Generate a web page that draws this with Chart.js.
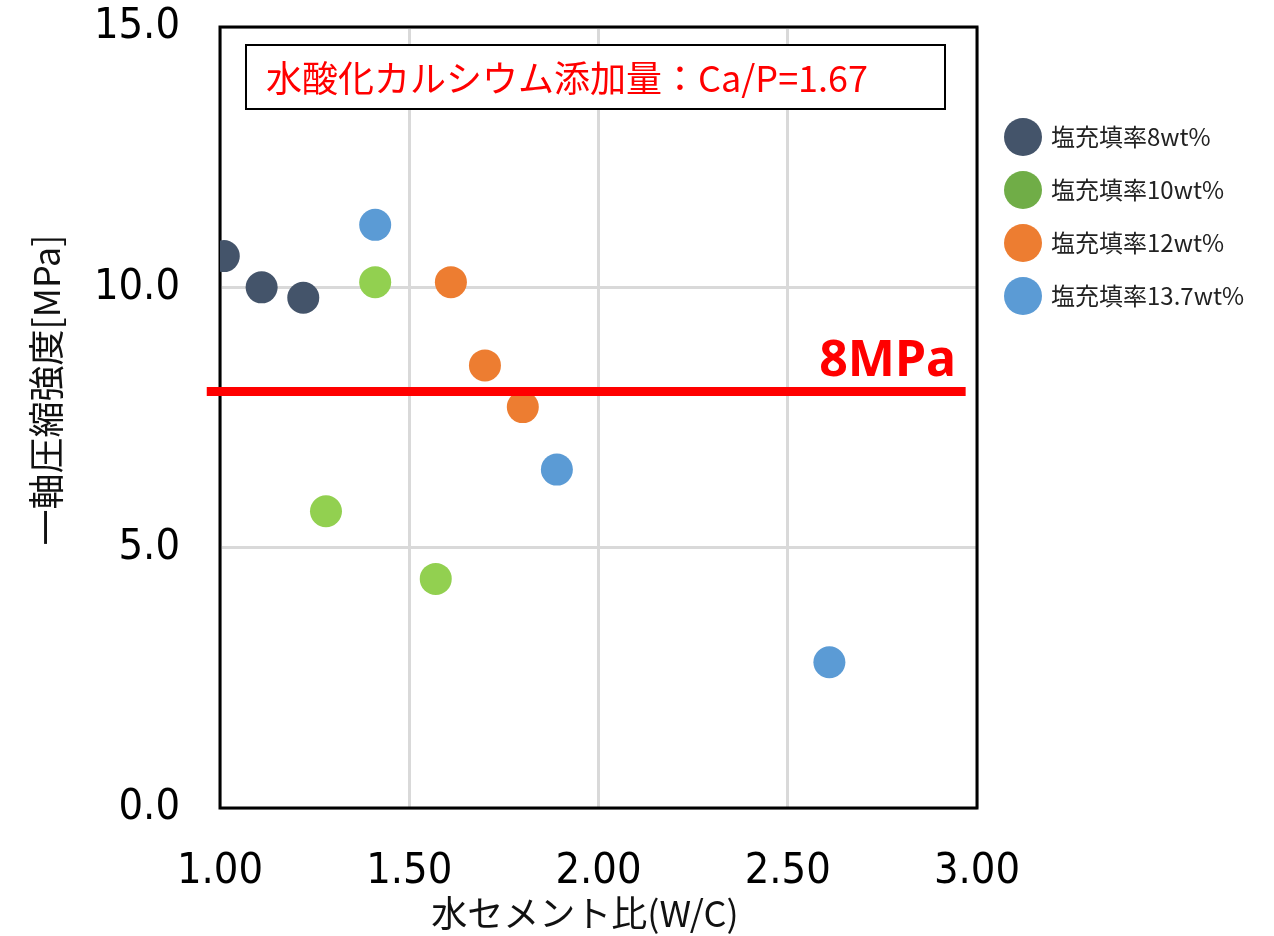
<!DOCTYPE html>
<html>
<head>
<meta charset="utf-8">
<script src="https://cdn.jsdelivr.net/npm/chart.js@4.4.1/dist/chart.umd.min.js"></script>
<style>
  html, body { margin: 0; padding: 0; background: #fff; }
  #wrap { width: 1274px; height: 936px; }
</style>
</head>
<body>
<div id="wrap"><canvas id="myChart" width="1274" height="936"></canvas></div>
<script>
// series labels and colours
const seriesNames = ["塩充填率8wt%", "塩充填率10wt%", "塩充填率12wt%", "塩充填率13.7wt%"];
const pointColors = ["#44546A", "#92D050", "#ED7D31", "#5B9BD5"];
const legendColors = ["#44546A", "#70AD47", "#ED7D31", "#5B9BD5"];

// water/cement ratio (x) and compressive strength in MPa (y) for each series
const wc8 = [1.01, 1.11, 1.22];
const mpa8 = [10.6, 10.0, 9.8];
const wc10 = [1.28, 1.41, 1.57];
const mpa10 = [5.7, 10.1, 4.4];
const wc12 = [1.61, 1.70, 1.80];
const mpa12 = [10.1, 8.5, 7.7];
const wc137 = [1.41, 1.89, 2.61];
const mpa137 = [11.2, 6.5, 2.8];

// 8MPa threshold line
const limitX = [0.965, 2.97];
const limitY = 8;

const xTitle = "水セメント比(W/C)";
const yTitle = "一軸圧縮強度[MPa]";
const noteText = "水酸化カルシウム添加量：Ca/P=1.67";
const limitText = "8MPa";

const xs = [wc8, wc10, wc12, wc137];
const ys = [mpa8, mpa10, mpa12, mpa137];

const tickFont = { family: "'DejaVu Sans Condensed', 'DejaVu Sans'", size: 43 };

const scatterSets = seriesNames.map((name, i) => ({
  type: "scatter",
  label: name,
  data: xs[i].map((x, j) => ({ x: x, y: ys[i][j] })),
  backgroundColor: pointColors[i],
  borderWidth: 0,
  pointRadius: 16,
  pointHoverRadius: 16,
  order: 1
}));

const limitSet = {
  type: "line",
  label: "limit",
  data: limitX.map(x => ({ x: x, y: limitY })),
  borderColor: "#FF0000",
  borderWidth: 9,
  pointRadius: 0,
  clip: false,
  order: 0
};

const extras = {
  id: "extras",
  beforeDatasetsDraw(chart) {
    const { ctx, chartArea: a } = chart;
    ctx.save();
    ctx.strokeStyle = "#000";
    ctx.lineWidth = 3;
    ctx.strokeRect(a.left, a.top, a.right - a.left, a.bottom - a.top);
    ctx.restore();
  },
  afterDraw(chart) {
    const { ctx, scales } = chart;
    ctx.save();

    // note box
    ctx.fillStyle = "#fff";
    ctx.fillRect(246, 45, 699, 64);
    ctx.strokeStyle = "#000";
    ctx.lineWidth = 2;
    ctx.strokeRect(246, 45, 699, 64);
    ctx.fillStyle = "#FF0000";
    ctx.font = "36px 'Noto Sans CJK JP'";
    ctx.textAlign = "left";
    ctx.textBaseline = "middle";
    ctx.fillText(noteText, 266, 78);

    // 8MPa label
    ctx.font = "bold 50px 'Noto Sans'";
    ctx.textAlign = "right";
    ctx.textBaseline = "alphabetic";
    ctx.fillText(limitText, 956, scales.y.getPixelForValue(limitY) - 15);

    // legend
    ctx.font = "24px 'Noto Sans CJK JP'";
    ctx.textAlign = "left";
    ctx.textBaseline = "middle";
    seriesNames.forEach((name, i) => {
      const cy = 137 + i * 53;
      ctx.fillStyle = legendColors[i];
      ctx.beginPath();
      ctx.arc(1023, cy, 19, 0, Math.PI * 2);
      ctx.fill();
      ctx.fillStyle = "#222";
      ctx.fillText(name, 1051, cy);
    });

    // axis titles
    ctx.fillStyle = "#111";
    ctx.font = "36px 'Noto Sans CJK JP'";
    ctx.textAlign = "center";
    ctx.textBaseline = "middle";
    ctx.fillText(xTitle, 585, 913);
    ctx.translate(46, 390);
    ctx.rotate(-Math.PI / 2);
    ctx.fillText(yTitle, 0, 0);
    ctx.restore();
  }
};

new Chart("myChart", {
  data: {
    datasets: [...scatterSets, limitSet]
  },
  options: {
    responsive: false,
    animation: false,
    layout: { padding: { top: 27, right: 297, left: 0, bottom: 0 } },
    plugins: {
      legend: { display: false },
      tooltip: { enabled: false }
    },
    scales: {
      x: {
        type: "linear",
        min: 1,
        max: 3,
        afterFit(scale) {
          scale.height = 128;
          scale.paddingLeft = 0;
          scale.paddingRight = 0;
        },
        border: { display: false },
        grid: { color: "#D9D9D9", lineWidth: 3, drawTicks: false },
        ticks: {
          stepSize: 0.5,
          padding: 38,
          color: "#000",
          font: tickFont,
          callback: v => v.toFixed(2)
        }
      },
      y: {
        type: "linear",
        min: 0,
        max: 15,
        afterFit(scale) {
          scale.width = 220;
          scale.paddingTop = 0;
          scale.paddingBottom = 0;
        },
        border: { display: false },
        grid: { color: "#D9D9D9", lineWidth: 3, drawTicks: false },
        ticks: {
          stepSize: 5,
          padding: 40,
          color: "#000",
          font: tickFont,
          callback: v => v.toFixed(1)
        }
      }
    }
  },
  plugins: [extras]
});
</script>
</body>
</html>
